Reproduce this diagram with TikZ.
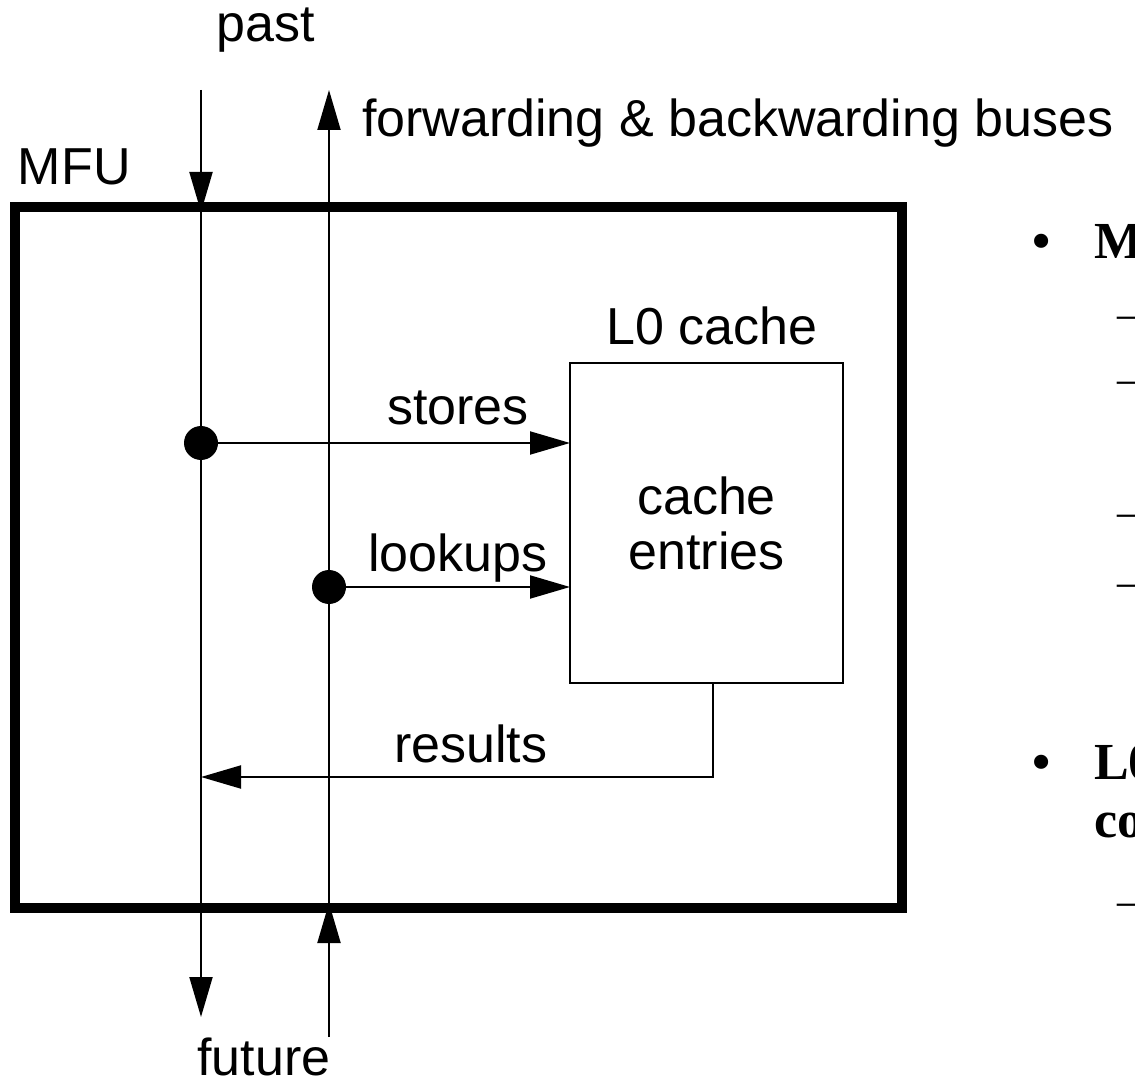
\documentclass[tikz,border=0pt]{standalone}
\usepackage{fontspec}
\setmainfont{Liberation Sans}
\newfontfamily\slidefont{Liberation Serif}
\usetikzlibrary{arrows.meta}

\begin{document}
\begin{tikzpicture}[x=0.5pt,y=-0.5pt,
  every node/.style={inner sep=0pt,outer sep=0pt},
  txt/.style={font=\fontsize{26}{27.5}\selectfont},
  bus/.style={line width=1pt},
  tip/.style={-{Triangle[length=20pt,width=11.5pt]}},
  unit/.style={draw,line width=5pt,minimum width=443.5pt,minimum height=350.5pt},
  cachebox/.style={draw,line width=1.2pt,minimum width=136.5pt,minimum height=160pt,
    align=center,txt},
  tap/.style={circle,fill=black,minimum size=17pt},
  slidebold/.style={font=\slidefont\bfseries\fontsize{26}{30}\selectfont},
  slidesub/.style={font=\slidefont\fontsize{22}{26}\selectfont}]

\useasboundingbox (0,0) rectangle (1135,1085);
\clip (0,0) rectangle (1135,1085);

% the memory functional unit and its L0 cache
\node[unit] (mfu) at (458.5,557.5) {};
\node[cachebox] (cache) at (706.5,523) {cache\\entries};
\node[txt,anchor=base] (cachelbl) at (712,345) {L0 cache};
\node[txt,anchor=base west] (mfulbl) at (18,185) {MFU};

% bus end points
\coordinate (pastend) at (201,90);
\coordinate (pastin) at (mfu.north -| pastend);
\coordinate (futureend) at (201,1017);
\coordinate (fwdtop) at (329,90);
\coordinate (fwdbot) at (329,1037);
\coordinate (fwdin) at (mfu.south -| fwdtop);

% the two buses through the unit
\draw[bus,tip] (pastend) -- ([yshift=-2.5pt]pastin);
\draw[bus,tip] (pastin) -- (futureend);
\draw[bus,tip] (fwdbot) -- ([yshift=2.5pt]fwdin);
\draw[bus,tip] (fwdin) -- (fwdtop);

% taps on the buses
\node[tap] (storetap) at (201,443) {};
\node[tap] (looktap) at (329,587) {};

% paths into and out of the cache
\draw[bus,tip] (storetap) -- (cache.west |- storetap);
\draw[bus,tip] (looktap) -- (cache.west |- looktap);
\coordinate (resout) at (713,683);
\coordinate (rescorner) at (713,777);
\draw[bus,tip] (resout) -- (rescorner) -- (rescorner -| pastend);

% labels
\node[txt,anchor=base] (pastlbl) at (266,42) {past};
\node[txt,anchor=base] (futurelbl) at (264,1075) {future};
\node[txt,anchor=base west] (buslbl) at (362,137) {forwarding \& backwarding buses};
\node[txt,anchor=base west] (storelbl) at (387,425) {stores};
\node[txt,anchor=base west] (looklbl) at (368,571) {lookups};
\node[txt,anchor=base west] (reslbl) at (394,762) {results};

% slide text running on at the right edge
\node[slidebold,anchor=base west] (b1) at (1032,259) {\textbullet};
\node[slidebold,anchor=base west] (t1) at (1094,259) {MFU};
\node[slidesub,anchor=base west] (d1) at (1117,329) {–};
\node[slidesub,anchor=base west] (d2) at (1117,394) {–};
\node[slidesub,anchor=base west] (d3) at (1117,526) {–};
\node[slidesub,anchor=base west] (d4) at (1117,596) {–};
\node[slidebold,anchor=base west] (b2) at (1032,779) {\textbullet};
\node[slidebold,anchor=base west] (t2) at (1094,779) {L0};
\node[slidebold,anchor=base west] (t3) at (1094,837) {co};
\node[slidesub,anchor=base west] (d5) at (1117,915) {–};
\end{tikzpicture}
\end{document}
